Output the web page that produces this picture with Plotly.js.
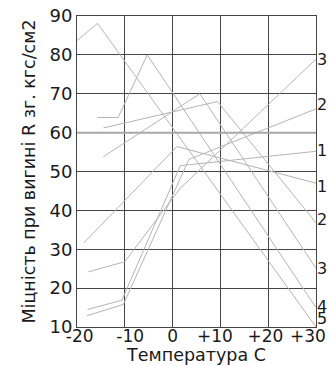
<!DOCTYPE html>
<html><head><meta charset="utf-8">
<script src="https://cdn.plot.ly/plotly-3.0.1.min.js"></script>
<style>html,body{margin:0;padding:0;background:#fff;}#chart{width:329px;height:365px;}</style>
</head><body><div id="chart"></div>
<script>
// Series (temperature, strength)
var s1x = [-20, -15.7, 30];            var s1y = [83.7, 88.1, 10];
var s2x = [-15.8, -11.4, -5.3, 30];    var s2y = [63.9, 63.9, 80, 15];
var s3x = [-14.5, 9.4, 30];            var s3y = [61.2, 68, 36.8];
var s4x = [-14.5, 5.7, 30];            var s4y = [53.8, 70, 25.1];
var s5x = [-18.6, 0.9, 30];            var s5y = [31.6, 56.4, 47];
var s6x = [-17.6, -10, 1.6, 30];       var s6y = [24.2, 26.8, 45.7, 78.9];
var s7x = [-17.8, -10.6, 1.6, 30];     var s7y = [14.5, 16.9, 51.5, 55.2];
var s8x = [-17.9, -10.3, 3.4, 30];     var s8y = [12.9, 15.8, 53.1, 66.1];
var endLabels = ['5', '4', '2', '3', '1', '3', '1', '2'];
var xTickVals = [-20, -10, 0, 10, 20, 30];
var xTickText = ['\u00a0-20', '\u00a0\u00a0-10', '0', '+10\u00a0\u00a0', '+20\u00a0', '+30\u00a0\u00a0\u00a0'];
var yTickVals = [10, 20, 30, 40, 50, 60, 70, 80, 90];

var xs = [s1x, s2x, s3x, s4x, s5x, s6x, s7x, s8x];
var ys = [s1y, s2y, s3y, s4y, s5y, s6y, s7y, s8y];
var labelShift = [9, 1, 3, 0, -3, 0, 1, 4];
var FONT = 'DejaVu Sans, Arial, sans-serif';

var traces = xs.map(function (x, i) {
  return {x: x, y: ys[i], mode: 'lines', type: 'scatter',
          line: {color: '#b4b4b4', width: 1}, hoverinfo: 'skip', showlegend: false};
});

var annotations = xs.map(function (x, i) {
  return {x: x[x.length - 1], y: ys[i][ys[i].length - 1], xref: 'x', yref: 'y',
          text: endLabels[i], showarrow: false, xanchor: 'left', yanchor: 'middle',
          xshift: -1, yshift: labelShift[i],
          font: {family: FONT, size: 16, color: '#1a1a1a'}};
});

var layout = {
  width: 329, height: 365,
  margin: {l: 77, r: 13, t: 16, b: 38},
  paper_bgcolor: '#fff', plot_bgcolor: '#fff',
  font: {family: FONT, color: '#1a1a1a'},
  xaxis: {range: [-20, 30], tickvals: xTickVals, ticktext: xTickText,
          tickangle: 0,
          showgrid: true, gridcolor: '#444', gridwidth: 1,
          showline: true, linecolor: '#444', linewidth: 1, mirror: true,
          zeroline: false, ticks: '', ticklen: 0, ticklabeloverflow: 'allow',
          ticklabelstandoff: -6,
          tickfont: {family: FONT, size: 17, color: '#1a1a1a'},
          title: {text: 'Температура С\u00a0\u00a0\u00a0\u00a0', font: {family: FONT, size: 17.5, color: '#1a1a1a'}, standoff: 0}},
  yaxis: {range: [10, 90], tickvals: yTickVals,
          showgrid: true, gridcolor: '#444', gridwidth: 1,
          showline: true, linecolor: '#444', linewidth: 1, mirror: true,
          zeroline: false, ticks: '', ticklen: 0,
          tickfont: {family: FONT, size: 18, color: '#1a1a1a'},
          title: {text: 'Міцність при вигині R зг. кгс/см2', font: {family: FONT, size: 17.5, color: '#1a1a1a'}, standoff: 9}},
  shapes: [{type: 'line', xref: 'paper', yref: 'y', x0: 0, x1: 1, y0: 60, y1: 60,
            line: {color: '#a8a8a8', width: 2}}],
  annotations: annotations
};

Plotly.newPlot('chart', traces, layout, {staticPlot: true, displayModeBar: false});
</script>
</body></html>
